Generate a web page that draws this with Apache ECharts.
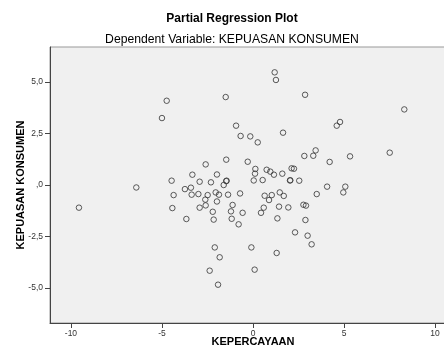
<!DOCTYPE html>
<html>
<head>
<meta charset="utf-8">
<script src="https://cdn.jsdelivr.net/npm/echarts@6/dist/echarts.min.js"></script>
<style>
html,body{margin:0;padding:0;background:#fff;}
#chart{width:444px;height:357px;}
</style>
</head>
<body>
<div id="chart"></div>
<script>
// Data (KEPERCAYAAN residuals, KEPUASAN KONSUMEN residuals)
const kepercayaan = [
  -4.74, -5.00, -1.50, -0.93, -0.68, -1.47, -2.60, -1.98, -3.33, -4.47,
  -2.93, -2.31, -1.47, -1.45, -1.61, -3.74, -3.41, -6.41, 1.19, 1.26,
  2.86, 8.31, -0.15, 0.26, 1.65, 4.78, 4.60, 7.51, 3.44, 3.31,
  2.82, 5.33, 4.21, -0.29, 0.13, 0.11, 0.75, 0.95, 1.15, 1.61,
  2.12, 2.25, 0.04, 0.53, 2.03, 2.05, 2.54, 4.07, 5.07, -9.56,
  -4.36, -3.37, -3.00, -2.49, -2.05, -1.87, -1.37, -0.71, -2.62, -1.98,
  -2.60, -4.43, -2.93, -1.12, -2.21, -1.21, -3.66, -2.16, -1.17, -0.79,
  -2.10, -1.83, -2.38, -1.92, 0.64, 1.03, 0.88, 1.47, 1.69, 3.50,
  4.96, -0.57, 0.59, 0.44, 1.43, 1.94, 2.77, 2.91, 1.34, 2.88,
  2.31, 3.00, 3.22, -0.09, 1.30, 0.09
];
const kepuasanKonsumen = [
  4.09, 3.25, 4.27, 2.88, 2.38, 1.23, 1.00, 0.51, 0.50, 0.21,
  0.16, 0.13, 0.19, 0.21, 0.00, -0.20, -0.13, -0.12, 5.47, 5.10,
  4.38, 3.67, 2.36, 2.07, 2.54, 3.06, 2.88, 1.57, 1.68, 1.42,
  1.41, 1.39, 1.12, 1.13, 0.78, 0.55, 0.74, 0.65, 0.50, 0.55,
  0.81, 0.79, 0.22, 0.24, 0.22, 0.23, 0.21, -0.08, -0.08, -1.10,
  -0.49, -0.47, -0.44, -0.49, -0.36, -0.47, -0.47, -0.41, -0.71, -0.80,
  -0.99, -1.12, -1.10, -0.97, -1.30, -1.28, -1.65, -1.68, -1.64, -1.91,
  -3.03, -3.51, -4.16, -4.84, -0.52, -0.49, -0.73, -0.36, -0.53, -0.44,
  -0.36, -1.35, -1.10, -1.35, -1.05, -1.09, -0.96, -1.00, -1.62, -1.70,
  -2.30, -2.46, -2.88, -3.03, -3.30, -4.11
];
const xTickValues = [-10, -5, 0, 5, 10];
const xTickLabels = ['-10', '-5', '0', '5', '10'];
const yTickValues = [-5, -2.5, 0, 2.5, 5];
const yTickLabels = ['-5,0', '-2,5', ',0', '2,5', '5,0'];

const titleText = 'Partial Regression Plot';
const subtitleText = 'Dependent Variable: KEPUASAN KONSUMEN';
const xName = 'KEPERCAYAAN';
const yName = 'KEPUASAN KONSUMEN';

const points = kepercayaan.map((x, i) => [x, kepuasanKonsumen[i]]);
const FONT = '"Liberation Sans", Arial, sans-serif';

const chart = echarts.init(document.getElementById('chart'), null, {renderer: 'canvas'});
chart.setOption({
  animation: false,
  backgroundColor: '#ffffff',
  graphic: [
    {type: 'text', x: 232, y: 19, style: {text: titleText, textAlign: 'center', textVerticalAlign: 'middle', fontFamily: FONT, fontSize: 12, fontWeight: 'bold', fill: '#000'}},
    {type: 'text', x: 232, y: 40, style: {text: subtitleText, textAlign: 'center', textVerticalAlign: 'middle', fontFamily: FONT, fontSize: 12.2, fontWeight: 'normal', fill: '#000'}}
  ],
  grid: {
    left: 50, right: -12, top: 47, bottom: 34,
    outerBoundsMode: 'none',
    show: true, backgroundColor: '#f0f0f0', borderColor: '#999', borderWidth: 1,
    containLabel: false
  },
  xAxis: {
    type: 'value', min: -11.15, max: 11.15,
    name: xName, nameLocation: 'middle', nameGap: 13, nameMoveOverlap: false,
    nameTextStyle: {fontFamily: FONT, fontSize: 11, fontWeight: 'bold', color: '#000'},
    axisLine: {show: true, onZero: false, lineStyle: {color: '#444', width: 1}},
    axisTick: {show: true, length: 5, customValues: xTickValues, lineStyle: {color: '#444'}},
    axisLabel: {show: true, margin: 6, customValues: xTickValues,
      formatter: v => xTickLabels[xTickValues.indexOf(v)] ?? '',
      fontFamily: FONT, fontSize: 8.5, color: '#333'},
    splitLine: {show: false}
  },
  yAxis: {
    type: 'value', min: -6.7, max: 6.7,
    name: yName, nameLocation: 'middle', nameGap: 24, nameRotate: 90, nameMoveOverlap: false,
    nameTextStyle: {fontFamily: FONT, fontSize: 11, fontWeight: 'bold', color: '#000'},
    axisLine: {show: true, onZero: false, lineStyle: {color: '#444', width: 1}},
    axisTick: {show: true, length: 5, customValues: yTickValues, lineStyle: {color: '#444'}},
    axisLabel: {show: true, margin: 7, customValues: yTickValues,
      formatter: v => yTickLabels[yTickValues.indexOf(v)] ?? '',
      fontFamily: FONT, fontSize: 8.5, color: '#333'},
    splitLine: {show: false}
  },
  series: [{
    type: 'scatter',
    data: points,
    symbol: 'circle',
    symbolSize: 5.5,
    itemStyle: {color: 'rgba(0,0,0,0)', borderColor: '#333', borderWidth: 1},
    silent: true
  }]
});
</script>
</body>
</html>
